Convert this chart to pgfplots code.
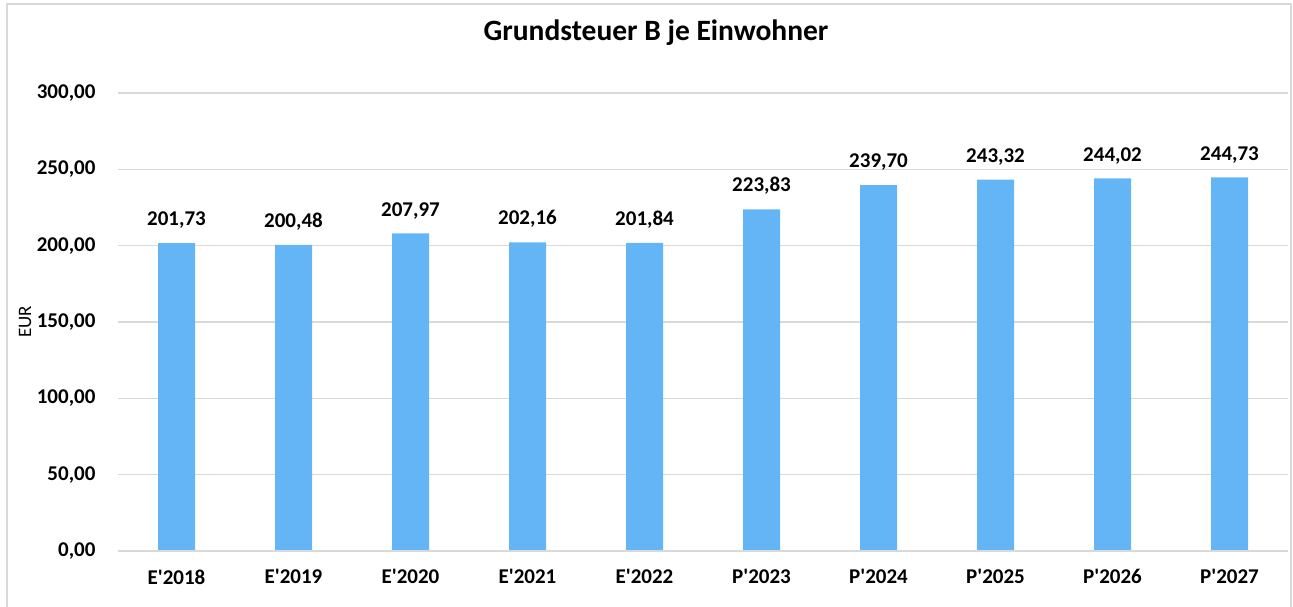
\documentclass[border=0pt]{standalone}
\usepackage{pgfplots}
\pgfplotsset{compat=1.18}
\usepackage{fontspec}
\setmainfont{Carlito}
\definecolor{barblue}{HTML}{63B5F6}
\definecolor{gridgray}{HTML}{D9D9D9}
\newcommand{\q}{\textquotesingle}
\begin{document}
\begin{tikzpicture}[x=1pt,y=1pt]
\useasboundingbox (0,0) rectangle (1293,607);
\draw[gridgray, line width=1.2pt] (7,-5) -- (7,603) -- (1291,603) -- (1291,-5);
\node[font=\bfseries\fontsize{29.5}{34}\selectfont] at (656,574) {Grundsteuer B je Einwohner};
\begin{axis}[
  at={(118pt,56pt)}, anchor=south west,
  scale only axis, width=1170pt, height=458pt,
  xmin=-0.5, xmax=9.5, ymin=0, ymax=300,
  ytick={0,50,...,300},
  xtick={0,...,9},
  xticklabels={E\q2018,E\q2019,E\q2020,E\q2021,E\q2022,P\q2023,P\q2024,P\q2025,P\q2026,P\q2027},
  axis line style={draw=none},
  axis x line*=bottom,
  ymajorgrids, grid style={gridgray, line width=1.2pt},
  major tick length=0pt,
  tick label style={font=\bfseries\fontsize{21}{25}\selectfont},
  /pgf/number format/assume math mode=true,
  yticklabel={\pgfmathprintnumber[fixed,fixed zerofill,precision=2,use comma]{\tick}},
  yticklabel style={xshift=-19pt},
  xticklabel style={yshift=-15pt},
  ylabel={EUR},
  every axis y label/.style={at={(-93pt,229pt)}, rotate=90, anchor=center, font=\fontsize{19}{22}\selectfont},
  nodes near coords={\pgfmathprintnumber[fixed,fixed zerofill,precision=2,use comma,assume math mode=true]{\pgfplotspointmeta}},
  every node near coord/.append style={font=\bfseries\fontsize{21}{25}\selectfont, anchor=south, yshift=11pt},
  clip=false,
]
\addplot[ybar, bar width=37pt, fill=barblue, draw=none] coordinates {
(0,201.73) (1,200.48) (2,207.97) (3,202.16) (4,201.84)
(5,223.83) (6,239.70) (7,243.32) (8,244.02) (9,244.73)};
\draw[gridgray, line width=1.2pt] (axis cs:-0.5,0) -- (axis cs:9.5,0);
\end{axis}
\end{tikzpicture}
\end{document}
